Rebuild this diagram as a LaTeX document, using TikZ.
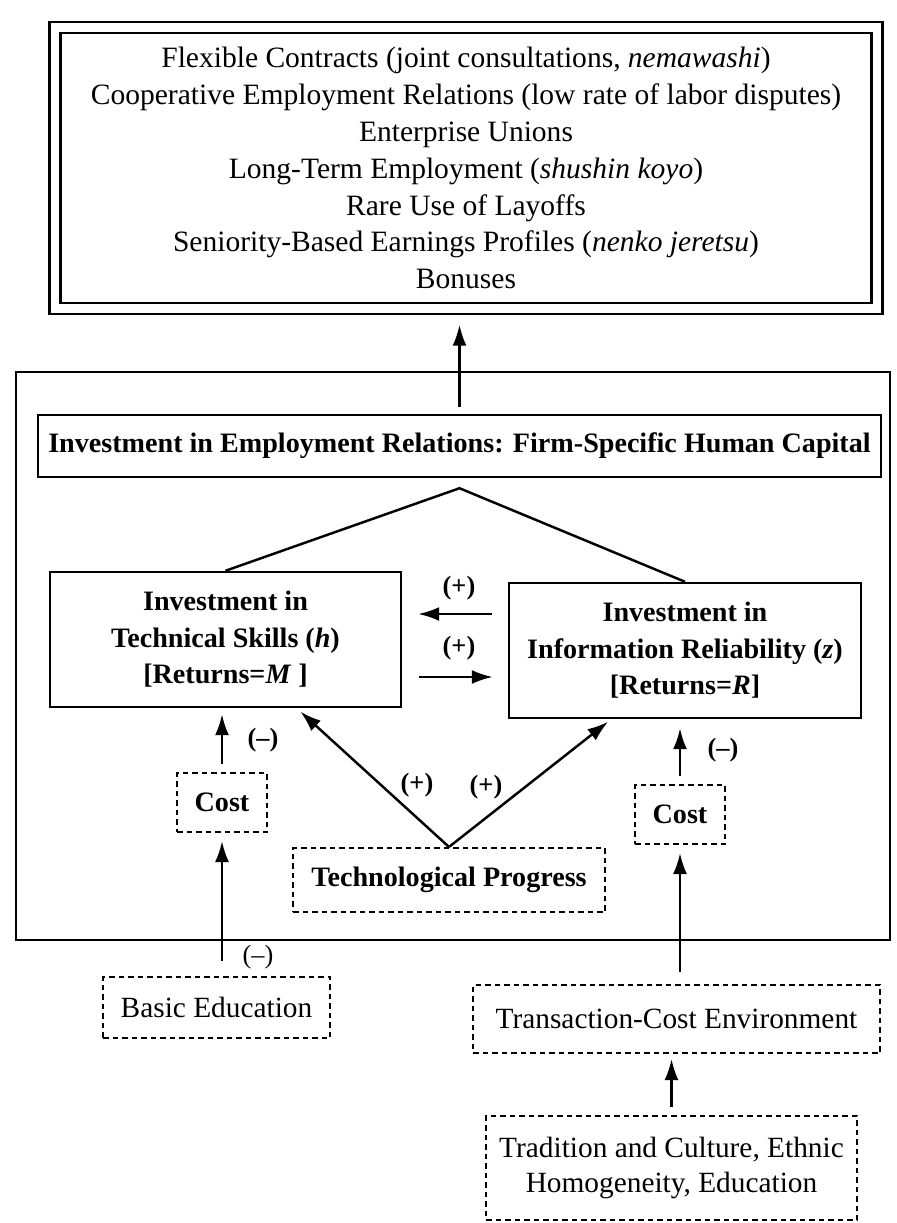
\documentclass[tikz,border=0pt]{standalone}
\usepackage{fontspec}
\setmainfont{Liberation Serif}
\usetikzlibrary{arrows.meta,positioning,calc}
\tikzset{
  box/.style={draw,line width=1.4pt,align=center,inner sep=0pt,font=\fontsize{16}{20.8}\selectfont\bfseries},
  dbox/.style={box,dash pattern=on 1.1mm off 0.8mm,line width=1.2pt},
  ebox/.style={dbox,font=\fontsize{16.7}{19.5}\selectfont},
  arr/.style={-{Latex[length=4.2mm,width=2.8mm]},line width=1.4pt},
  sign/.style={inner sep=0pt,font=\fontsize{15}{18}\selectfont\bfseries}
}

\begin{document}
\begin{tikzpicture}[x=0.2mm,y=-0.2mm]
  \useasboundingbox (0,0) rectangle (896,1223);
  \node[box,double,double distance=1.7mm,minimum width=164.4mm,minimum height=56.2mm,font=\fontsize{16.8}{21}\selectfont] (outcomes) at (466,168)
    {Flexible Contracts (joint consultations, \textit{nemawashi})\\
     Cooperative Employment Relations (low rate of labor disputes)\\
     Enterprise Unions\\
     Long-Term Employment (\textit{shushin koyo})\\
     Rare Use of Layoffs\\
     Seniority-Based Earnings Profiles (\textit{nenko jeretsu})\\
     Bonuses};
  \node[draw,line width=1.4pt,minimum width=174.8mm,minimum height=113.6mm] (sector) at (453,656) {};
  \node[box,minimum width=168.6mm,minimum height=12.4mm] (firmspec) at (459.5,446)
    {Investment in Employment Relations: Firm-Specific Human Capital};
  \coordinate[below=2mm of firmspec] (apex);
  \node[box,minimum width=70.2mm,minimum height=27mm] (techskill) at (225.5,639.5)
    {Investment in\\ Technical Skills (\textit{h})\\ {[}Returns=\textit{M} ]};
  \node[box,minimum width=70.4mm,minimum height=27mm] (inforel) at (685,650.5)
    {Investment in\\ Information Reliability (\textit{z})\\ {[}Returns=\textit{R}]};
  \node[dbox,minimum width=18mm,minimum height=11.8mm] (costh) at (222,802.5) {Cost};
  \node[dbox,minimum width=18mm,minimum height=11.8mm] (costz) at (680,814.5) {Cost};
  \node[dbox,minimum width=62.4mm,minimum height=12.8mm] (techprog) at (449,880) {Technological Progress};
  \node[ebox,minimum width=45.4mm,minimum height=12.2mm] (basicedu) at (216.5,1007.5) {Basic Education};
  \node[ebox,minimum width=81.4mm,minimum height=13.6mm] (transenv) at (676.5,1019) {Transaction-Cost Environment};
  \node[ebox,minimum width=74.2mm,minimum height=20.8mm] (tradition) at (671.5,1168)
    {Tradition and Culture, Ethnic\\ Homogeneity, Education};

  \node[sign] (plusleft) at (459,588) {(+)};
  \node[sign] (plusright) at (459,648) {(+)};
  \node[sign] (minush) at (263,740) {(--)};
  \node[sign] (minusz) at (723,750) {(--)};
  \node[sign] (plustech) at (417,785) {(+)};
  \node[sign] (plusinfo) at (486,787) {(+)};
  \node[sign,font=\fontsize{15}{18}\selectfont] (minusedu) at (258,957) {(--)};

  \draw[arr,shorten >=3mm,shorten <=1.4mm] (firmspec.north) -- (firmspec.north |- outcomes.south);
  \draw[line width=1.4pt] (techskill.north) -- (apex) -- (inforel.north);
  \draw[arr] ($(inforel.west)+(-16,-36.5)$) -- ($(techskill.east)+(16,-25.5)$);
  \draw[arr] ($(techskill.east)+(17,37.5)$) -- ($(inforel.west)+(-15,26.5)$);
  \draw[arr,shorten <=1.6mm,shorten >=1.2mm] (costh.north) -- (costh.north |- techskill.south);
  \draw[arr,shorten <=1.6mm,shorten >=1.8mm] (costz.north) -- (costz.north |- inforel.south);
  \draw[arr,shorten >=1mm] (techprog.north) -- (techskill.-44);
  \draw[arr,shorten >=0.8mm] (techprog.north) -- (inforel.-137.6);
  \draw[arr,shorten <=3mm,shorten >=1.6mm] (basicedu.north -| costh.south) -- (costh.south);
  \draw[arr,shorten <=2.4mm,shorten >=1.6mm] (transenv.north -| costz.south) -- (costz.south);
  \draw[arr,shorten <=1.6mm,shorten >=1mm] (tradition.north) -- (tradition.north |- transenv.south);
\end{tikzpicture}
\end{document}
